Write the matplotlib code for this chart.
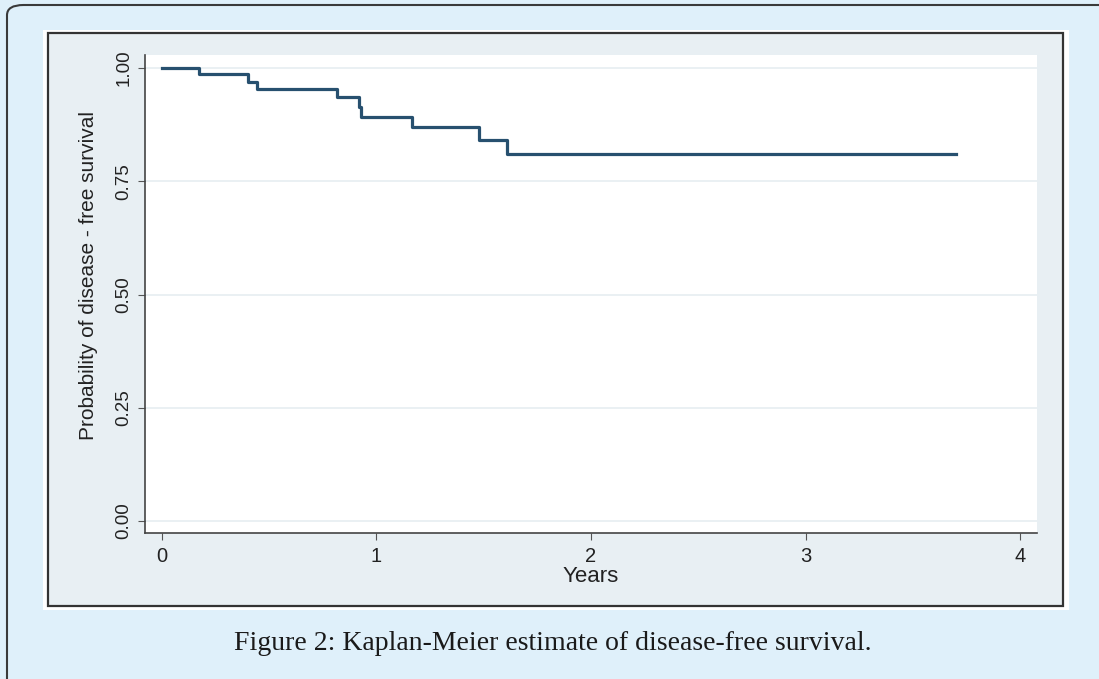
import matplotlib
matplotlib.use("Agg")
import matplotlib.pyplot as plt
from matplotlib.patches import FancyBboxPatch, Rectangle

# Kaplan-Meier steps (time in years, survival after the step)
times = [0.0, 0.174, 0.40, 0.441, 0.814, 0.918, 0.926, 1.167, 1.479, 1.608, 3.70]
surv = [1.000, 0.986, 0.970, 0.954, 0.936, 0.915, 0.893, 0.869, 0.842, 0.810, 0.810]

x_ticks = [0, 1, 2, 3, 4]
y_ticks = [0.00, 0.25, 0.50, 0.75, 1.00]
y_tick_labels = ["0.00", "0.25", "0.50", "0.75", "1.00"]

W, H = 1099, 679
fig = plt.figure(figsize=(W / 100, H / 100), dpi=100)
fig.patch.set_facecolor("#dff0fa")


def box(x0, y0, x1, y1):
    # pixel box (top-left origin) -> figure fraction
    return x0 / W, 1 - y1 / H, (x1 - x0) / W, (y1 - y0) / H


# outer card border (runs off the right and bottom edge)
bx, by, bw, bh = box(7, 5, 1115, 700)
fig.patches.append(FancyBboxPatch((bx, by), bw, bh, boxstyle="round,pad=0,rounding_size=0.015",
                                  transform=fig.transFigure, facecolor="#dff0fa",
                                  edgecolor="#3a3a3a", linewidth=1.5, zorder=0))
# white margin around the picture
bx, by, bw, bh = box(43, 30, 1069, 610)
fig.patches.append(Rectangle((bx, by), bw, bh, transform=fig.transFigure,
                             facecolor="white", edgecolor="none", zorder=1))
# graph region (stata style)
bx, by, bw, bh = box(48, 33, 1063, 606)
fig.patches.append(Rectangle((bx, by), bw, bh, transform=fig.transFigure,
                             facecolor="#e8eff3", edgecolor="#333333", linewidth=1.6, zorder=2))

ax = fig.add_axes(box(145, 55, 1037, 533))
ax.set_facecolor("white")
ax.set_zorder(3)

ax.plot(times, surv, drawstyle="steps-post", color="#27506f", linewidth=2.3)

ax.set_xlim(-0.079, 4.079)
ax.set_ylim(-0.0265, 1.029)
ax.set_xticks(x_ticks)
ax.set_yticks(y_ticks)
ax.set_yticklabels(y_tick_labels, rotation=90, va="center")
ax.tick_params(axis="x", labelsize=14.5, colors="#555555", labelcolor="#222222", length=5, pad=5)
ax.tick_params(axis="y", labelsize=13.5, colors="#555555", labelcolor="#222222", length=5, pad=4)
for tl in ax.get_xticklabels() + ax.get_yticklabels():
    tl.set_family("Liberation Sans")

ax.grid(axis="y", color="#e6eef1", linewidth=1.2)
ax.set_axisbelow(True)
for s in ["top", "right"]:
    ax.spines[s].set_visible(False)
for s in ["left", "bottom"]:
    ax.spines[s].set_color("#444444")
    ax.spines[s].set_linewidth(1.2)

ax.set_xlabel("Years", fontsize=16, family="Liberation Sans", color="#222222")
ax.xaxis.set_label_coords(0.5, -(566 - 533) / 478)
ax.xaxis.label.set_va("top")
ax.set_ylabel("Probability of disease - free survival", fontsize=15, family="Liberation Sans",
              color="#222222")
ax.yaxis.set_label_coords(-(145 - 98) / 892, (533 - 275) / 478)

fig.text(553 / W, 1 - 643 / H, "Figure 2: Kaplan-Meier estimate of disease-free survival.",
         ha="center", va="center", fontsize=20, family="Liberation Serif", color="#1a1a1a")

fig.savefig("out.png", dpi=100, facecolor=fig.get_facecolor())
